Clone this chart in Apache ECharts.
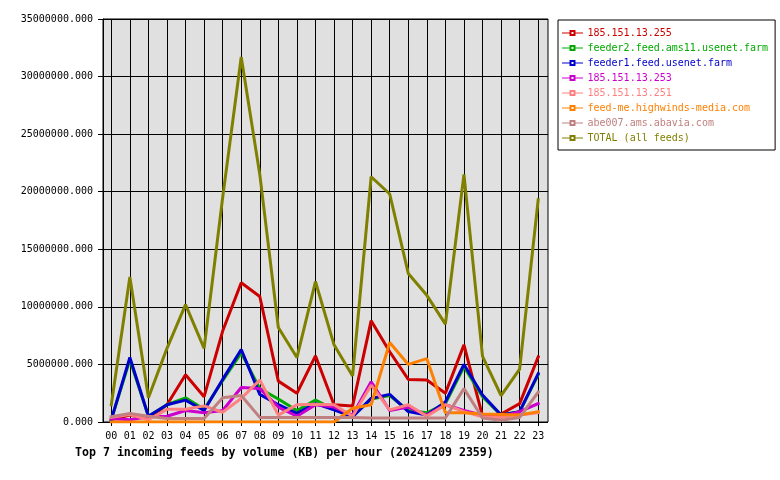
<!DOCTYPE html>
<html>
<head>
<meta charset="utf-8">
<script src="https://cdn.jsdelivr.net/npm/echarts@6/dist/echarts.min.js"></script>
<style>
  html, body { margin: 0; padding: 0; background: #fff; }
  #chart { width: 780px; height: 480px; }
</style>
</head>
<body>
<div id="chart"></div>
<script>
// hours 00..23
var hours = [];
for (var h = 0; h < 24; h++) hours.push(h);

// KB per hour, millions
var feedNames = ['185.151.13.255', 'feeder2.feed.ams11.usenet.farm', 'feeder1.feed.usenet.farm',
  '185.151.13.253', '185.151.13.251', 'feed-me.highwinds-media.com', 'abe007.ams.abavia.com', 'TOTAL (all feeds)'];
var feedColors = ['#cc0000', '#00aa00', '#0000cc', '#cc00cc', '#ff8080', '#ff8000', '#c08080', '#808000'];

var red   = [0.2, 0.6, 0.3, 1.5, 4.1, 2.2, 7.9, 12.1, 10.9, 3.55, 2.5, 5.75, 1.5, 1.4, 8.8, 6.1, 3.7, 3.65, 2.5, 6.7, 0.5, 0.7, 1.6, 5.65];
var green = [0.2, 5.4, 0.5, 1.5, 2.1, 1.1, 3.6, 6.0, 2.9, 2.0, 1.0, 1.9, 1.1, 0.5, 2.0, 2.3, 1.0, 0.8, 1.6, 4.8, 2.2, 0.6, 0.9, 4.1];
var blue  = [0.2, 5.6, 0.5, 1.5, 1.9, 1.0, 3.7, 6.3, 2.4, 1.5, 0.75, 1.6, 1.05, 0.45, 2.05, 2.4, 0.9, 0.6, 1.75, 5.0, 2.35, 0.6, 0.9, 4.2];
var magenta = [0.3, 0.2, 0.45, 0.5, 1.0, 0.8, 1.0, 3.0, 2.9, 1.3, 0.5, 1.5, 1.3, 0.6, 3.5, 1.0, 1.3, 0.6, 1.5, 1.0, 0.6, 0.45, 0.9, 1.6];
var pink  = [0.4, 0.65, 0.2, 1.1, 1.1, 1.4, 0.85, 2.05, 3.65, 0.6, 1.5, 1.55, 1.5, 0.5, 3.2, 1.05, 1.5, 0.5, 1.5, 0.9, 0.45, 0.4, 0.6, 0.8];
var orange = [0, 0, 0, 0, 0, 0, 0, 0, 0, 0, 0, 0, 0, 1.2, 1.5, 6.9, 5.0, 5.5, 0.8, 0.8, 0.7, 0.65, 0.6, 0.9];
var abe   = [0.45, 0.75, 0.5, 0.3, 0.3, 0.3, 2.1, 2.3, 0.4, 0.4, 0.4, 0.4, 0.4, 0.4, 0.35, 0.35, 0.35, 0.35, 0.35, 2.9, 0.35, 0.15, 0.4, 2.6];
var total = [1.5, 12.6, 2.1, 6.4, 10.2, 6.4, 19.5, 31.7, 21.5, 8.2, 5.6, 12.2, 6.7, 4.0, 21.3, 19.8, 12.9, 11.0, 8.5, 21.5, 5.7, 2.3, 4.6, 19.3];
var feedData = [red, green, blue, magenta, pink, orange, abe, total];

var mono = 'DejaVu Sans Mono';

function pts(arr) {
  var out = [];
  for (var i = 0; i < arr.length; i++) out.push([hours[i], arr[i] * 1000000]);
  return out;
}
function pad2(v) { return (v < 10 ? '0' : '') + v; }

var series = [];
var legendData = [];
for (var s = 0; s < feedNames.length; s++) {
  series.push({
    name: feedNames[s],
    type: 'line',
    xAxisIndex: 1,
    yAxisIndex: 1,
    data: pts(feedData[s]),
    symbol: 'emptyRect',
    symbolSize: 4,
    showSymbol: false,
    animation: false,
    silent: true,
    color: feedColors[s],
    lineStyle: { width: 3, color: feedColors[s], cap: 'square' }
  });
  legendData.push({ name: feedNames[s], textStyle: { color: feedColors[s] } });
}

var chart = echarts.init(document.getElementById('chart'));
chart.setOption({
  backgroundColor: '#fff',
  animation: false,
  title: {
    text: 'Top 7 incoming feeds by volume (KB) per hour (20241209 2359)',
    left: 70, top: 442,
    textStyle: { fontFamily: mono, fontSize: 11.6, fontWeight: 'bold', color: '#000' }
  },
  legend: {
    orient: 'vertical',
    left: 558, top: 20,
    padding: [8, 7, 7, 4],
    itemGap: 5,
    itemWidth: 20, itemHeight: 5,
    backgroundColor: '#fff',
    borderColor: '#000', borderWidth: 1, borderRadius: 0,
    lineStyle: { width: 1 },
    itemStyle: { borderWidth: 1 },
    textStyle: { fontFamily: mono, fontSize: 10, lineHeight: 10 },
    data: legendData
  },
  grid: [
    { left: 103, top: 19, width: 445, height: 403, show: true, backgroundColor: '#e0e0e0', borderColor: '#000', borderWidth: 1 },
    { left: 111.3, top: 19, width: 426.9, height: 403 }
  ],
  xAxis: [
    { type: 'value', gridIndex: 0, min: 0, max: 1, show: false },
    {
      type: 'value', gridIndex: 1, min: 0, max: 23, interval: 1,
      axisLine: { show: false },
      axisTick: { show: true, length: 4, lineStyle: { color: '#000' } },
      axisLabel: { fontFamily: mono, fontSize: 10, color: '#000', margin: 9, formatter: pad2 },
      splitLine: { show: true, lineStyle: { color: '#000', width: 1 } }
    }
  ],
  yAxis: [
    {
      type: 'value', gridIndex: 0, min: 0, max: 35000000, interval: 5000000,
      axisLine: { show: true, lineStyle: { color: '#000' } },
      axisTick: { show: true, length: 5, lineStyle: { color: '#000' } },
      axisLabel: { fontFamily: mono, fontSize: 10, color: '#000', margin: 10,
        formatter: function (v) { return v.toFixed(3); } },
      splitLine: { show: true, lineStyle: { color: '#000', width: 1 } }
    },
    { type: 'value', gridIndex: 1, min: 0, max: 35000000, show: false }
  ],
  series: series
});
</script>
</body>
</html>
